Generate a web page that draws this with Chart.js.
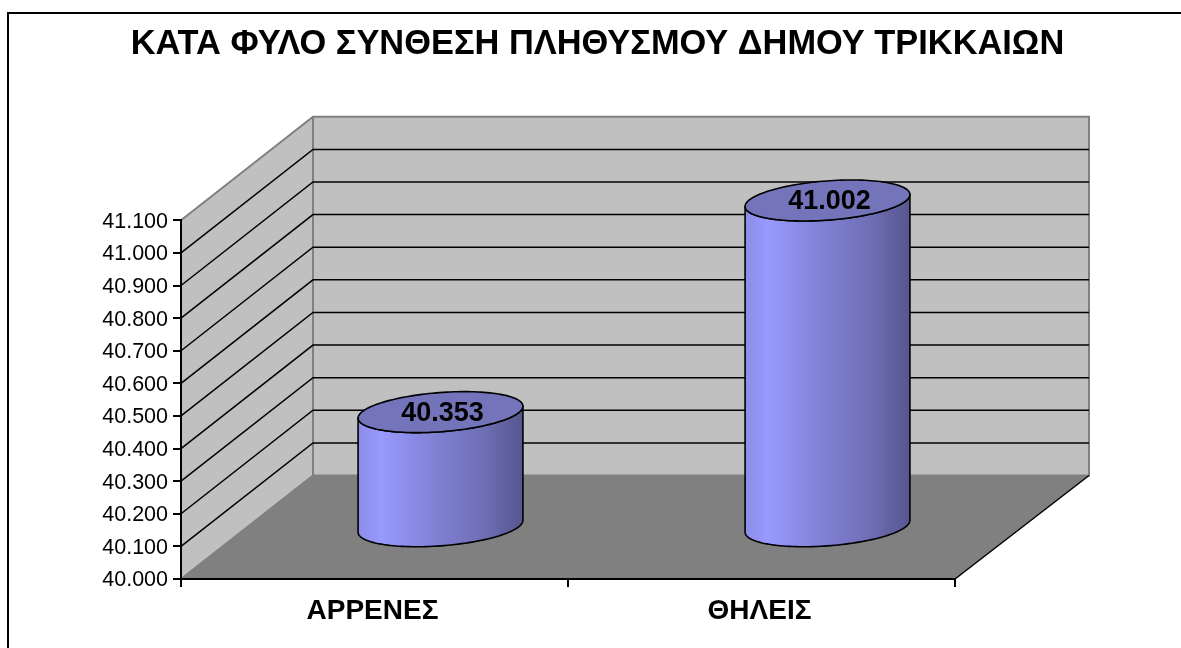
<!DOCTYPE html>
<html>
<head>
<meta charset="utf-8">
<style>html,body{margin:0;padding:0;background:#fff;overflow:hidden}canvas{display:block}</style>
<script src="https://cdn.jsdelivr.net/npm/chart.js@4/dist/chart.umd.min.js"></script>
</head>
<body>
<canvas id="c" width="1181" height="648"></canvas>
<script>
const chartTitle = 'ΚΑΤΑ ΦΥΛΟ ΣΥΝΘΕΣΗ ΠΛΗΘΥΣΜΟΥ ΔΗΜΟΥ ΤΡΙΚΚΑΙΩΝ';
const categories = ['ΑΡΡΕΝΕΣ', 'ΘΗΛΕΙΣ'];
const population = [40353, 41002];
const axisMin = 40000, axisMax = 41100, axisStep = 100;

const FONT = '"Liberation Sans", Arial, sans-serif';
const DEPTH = {x: 132, y: -103.5, xRight: 134};
const fmt = v => String(Math.floor(v / 1000)) + '.' + String(v % 1000).padStart(3, '0');

function ellipsePoint(cx, cy, w, t) {
  const r = w / 2, a = r * 0.957, b = r * 0.29, c = 20.5;
  return [cx + a * Math.cos(t) + b * Math.sin(t), cy - c * Math.sin(t)];
}
// parameter of the silhouette's rightmost point
const T0 = Math.atan2(0.29, 0.957);

const scene3d = {
  id: 'scene3d',
  afterLayout(chart) {
    chart.titleBlock.left = 14;
    chart.titleBlock.right = 1181;
  },
  beforeDraw(chart) {
    const {ctx, chartArea: A} = chart, Y = chart.scales.y;
    const {x: dx, y: dy, xRight: dxR} = DEPTH, yT = Y.getPixelForValue(axisMax), yB = Y.getPixelForValue(axisMin);
    const L = A.left, R = A.right;
    ctx.save();
    // outer frame
    ctx.strokeStyle = '#000'; ctx.lineWidth = 2;
    ctx.beginPath(); ctx.moveTo(8, 648); ctx.lineTo(8, 13); ctx.lineTo(1181, 13); ctx.stroke();
    const poly = (pts, fill) => {
      ctx.beginPath(); pts.forEach((p, i) => i ? ctx.lineTo(p[0], p[1]) : ctx.moveTo(p[0], p[1]));
      ctx.closePath(); ctx.fillStyle = fill; ctx.fill();
    };
    poly([[L, yB], [L + dx, yB + dy], [L + dx, yT + dy], [L, yT]], '#c0c0c0');
    poly([[L + dx, yB + dy], [R + dxR, yB + dy], [R + dxR, yT + dy], [L + dx, yT + dy]], '#c0c0c0');
    poly([[L, yB], [R, yB], [R + dxR, yB + dy], [L + dx, yB + dy]], '#808080');
    // wall edges
    ctx.strokeStyle = '#808080'; ctx.lineWidth = 2;
    ctx.beginPath();
    ctx.moveTo(L, yT); ctx.lineTo(L + dx, yT + dy); ctx.lineTo(R + dxR, yT + dy); ctx.lineTo(R + dxR, yB + dy);
    ctx.lineTo(L + dx, yB + dy); ctx.lineTo(L, yB);
    ctx.moveTo(L + dx, yT + dy); ctx.lineTo(L + dx, yB + dy);
    ctx.stroke();
    // grid lines wrapping the walls
    ctx.strokeStyle = '#000'; ctx.lineWidth = 1.5;
    Y.ticks.forEach(t => {
      if (t.value <= axisMin || t.value >= axisMax) return;
      const y = Y.getPixelForValue(t.value);
      ctx.beginPath(); ctx.moveTo(L, y); ctx.lineTo(L + dx, y + dy); ctx.lineTo(R + dxR, y + dy); ctx.stroke();
    });
    // floor right edge
    ctx.lineWidth = 1.5;
    ctx.beginPath(); ctx.moveTo(R, yB); ctx.lineTo(R + dxR, yB + dy); ctx.stroke();
    ctx.restore();
  },
  afterDatasetsDraw(chart) {
    const {ctx} = chart, dx = DEPTH.x / 2, dy = DEPTH.y / 2;
    chart.getDatasetMeta(0).data.forEach((bar, i) => {
      const cx = bar.x + dx, top = bar.y + dy, base = bar.base + dy, w = bar.width;
      const left = cx - w / 2;
      const grad = ctx.createLinearGradient(left, 0, left + w, 0);
      grad.addColorStop(0, '#8c8ce8');
      grad.addColorStop(0.14, '#9999ff');
      grad.addColorStop(0.45, '#8282d6');
      grad.addColorStop(0.75, '#6f6fb6');
      grad.addColorStop(1, '#56568f');
      const N = 72;
      ctx.save();
      ctx.lineJoin = 'round';
      // body
      ctx.beginPath();
      for (let k = 0; k <= N; k++) {           // bottom front half, right to left
        const t = T0 - k / N * Math.PI;
        const p = ellipsePoint(cx, base, w, t);
        k ? ctx.lineTo(p[0], p[1]) : ctx.moveTo(p[0], p[1]);
      }
      for (let k = N; k >= 0; k--) {
        const t = T0 - k / N * Math.PI;
        const p = ellipsePoint(cx, top, w, t);
        ctx.lineTo(p[0], p[1]);
      }
      ctx.closePath();
      ctx.fillStyle = grad; ctx.fill();
      ctx.strokeStyle = '#000'; ctx.lineWidth = 1.6; ctx.stroke();
      // cap
      ctx.beginPath();
      for (let k = 0; k <= N * 2; k++) {
        const p = ellipsePoint(cx, top, w, k / N * Math.PI);
        k ? ctx.lineTo(p[0], p[1]) : ctx.moveTo(p[0], p[1]);
      }
      ctx.closePath();
      ctx.fillStyle = '#7474bb'; ctx.fill(); ctx.stroke();
      // value label
      ctx.fillStyle = '#000';
      ctx.font = 'bold 27px ' + FONT;
      ctx.textAlign = 'center'; ctx.textBaseline = 'middle';
      ctx.fillText(fmt(population[i]), cx + 2, top + 1.5);
      ctx.restore();
    });
  }
};

new Chart(document.getElementById('c'), {
  type: 'bar',
  data: {
    labels: categories,
    datasets: [{
      label: 'Πληθυσμός',
      data: population,
      base: axisMin,
      backgroundColor: 'rgba(0,0,0,0)',
      barPercentage: 0.426,
      categoryPercentage: 1
    }]
  },
  plugins: [scene3d],
  options: {
    responsive: false,
    animation: false,
    layout: {padding: {left: 0, right: 226, top: 0, bottom: 0}},
    plugins: {
      legend: {display: false},
      tooltip: {enabled: false},
      title: {
        display: true,
        text: chartTitle,
        color: '#000',
        font: {family: FONT, size: 34.4, weight: 'bold', lineHeight: 1.2},
        padding: {top: 24, bottom: 155}
      }
    },
    scales: {
      x: {
        afterFit(s) { s.height = 69; },
        grid: {offset: true, drawOnChartArea: false, color: '#000', lineWidth: 2, tickLength: 8},
        border: {color: '#000', width: 2},
        ticks: {color: '#000', font: {family: FONT, size: 28, weight: 'bold'}, padding: 7, maxRotation: 0, labelOffset: -2}
      },
      y: {
        min: axisMin,
        max: axisMax,
        afterFit(s) { s.width = 181; },
        grid: {drawOnChartArea: false, color: '#000', lineWidth: 2, tickLength: 8},
        border: {color: '#000', width: 2},
        ticks: {
          stepSize: axisStep,
          color: '#000',
          font: {family: FONT, size: 21.5},
          padding: 5,
          labelOffset: 1.5,
          callback: v => fmt(v)
        }
      }
    }
  }
});
</script>
</body>
</html>
